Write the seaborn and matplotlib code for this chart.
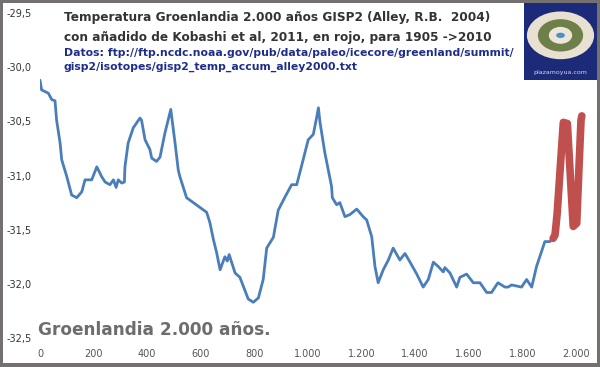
import matplotlib
matplotlib.use("Agg")
import matplotlib.pyplot as plt
import matplotlib.patches as patches
import matplotlib.ticker as ticker
import numpy as np
import pandas as pd
import seaborn as sns

# GISP2 temperature (Alley 2004)
years = [0, 6, 31, 44, 56, 62, 75, 81, 100, 118, 137, 156, 168, 193, 212, 230,
         243, 261, 274, 284, 292, 305, 315, 317, 329, 348, 373, 379, 392, 410,
         417, 435, 448, 466, 488, 504, 516, 522, 547, 622, 634, 647, 659, 672,
         690, 699, 706, 715, 728, 746, 777, 796, 815, 833, 846, 871, 889, 914,
         939, 958, 982, 1001, 1020, 1032, 1039, 1045, 1063, 1088, 1091, 1107,
         1119, 1138, 1157, 1182, 1206, 1219, 1238, 1250, 1262, 1281, 1300, 1318,
         1343, 1362, 1381, 1406, 1430, 1449, 1468, 1486, 1505, 1511, 1530, 1555,
         1567, 1592, 1617, 1642, 1667, 1685, 1709, 1735, 1747, 1760, 1797, 1816,
         1835, 1853, 1884, 1903, 1915]
temps = [-30.12, -30.21, -30.24, -30.30, -30.31, -30.49, -30.70, -30.855, -31.01,
         -31.18, -31.205, -31.15, -31.04, -31.04, -30.92, -31.01, -31.06, -31.085,
         -31.04, -31.11, -31.04, -31.07, -31.06, -30.92, -30.70, -30.56, -30.47,
         -30.49, -30.67, -30.76, -30.84, -30.87, -30.83, -30.61, -30.39, -30.70,
         -30.95, -31.01, -31.205, -31.34, -31.435, -31.59, -31.71, -31.87, -31.75,
         -31.79, -31.73, -31.80, -31.90, -31.94, -32.14, -32.17, -32.13, -31.96,
         -31.67, -31.57, -31.32, -31.20, -31.085, -31.085, -30.855, -30.67, -30.62,
         -30.47, -30.375, -30.51, -30.79, -31.10, -31.205, -31.27, -31.25, -31.38,
         -31.36, -31.31, -31.38, -31.41, -31.565, -31.84, -31.99, -31.87, -31.78,
         -31.67, -31.78, -31.72, -31.80, -31.91, -32.03, -31.96, -31.80, -31.84,
         -31.89, -31.85, -31.90, -32.03, -31.94, -31.91, -31.99, -31.99, -32.08,
         -32.08, -31.99, -32.03, -32.03, -32.01, -32.03, -31.96, -32.03, -31.84,
         -31.61, -31.61, -31.57]

# Kobashi et al 2011 addition (red)
k_years = [1915, 1922, 1930, 1945, 1953, 1968, 1980, 1990, 2003, 2011, 2019, 2022]
k_temps = [-31.58, -31.55, -31.35, -30.80, -30.51, -30.52, -31.04, -31.47, -31.44,
           -30.95, -30.49, -30.45]

xticks = [0, 200, 400, 600, 800, 1000, 1200, 1400, 1600, 1800, 2000]
yticks = [-32.5, -32.0, -31.5, -31.0, -30.5, -30.0, -29.5]

df = pd.DataFrame({"year": years, "temp": temps})
dk = pd.DataFrame({"year": k_years, "temp": k_temps})

sns.set_style("white")
plt.rcParams["font.family"] = ["DejaVu Sans"]

fig = plt.figure(figsize=(6, 3.67), dpi=100, facecolor="#747070")
# white panel inside the grey frame
fig.patches.append(patches.Rectangle((3 / 600, 4 / 367), 594 / 600, 360 / 367,
                                     transform=fig.transFigure, facecolor="white",
                                     edgecolor="none", zorder=-5))

ax = fig.add_axes([40 / 600, 1 - 338 / 367, 552 / 600, 325 / 367])
ax.set_facecolor("none")
sns.lineplot(data=df, x="year", y="temp", ax=ax, color="#4a7ebb", linewidth=2)
sns.lineplot(data=dk, x="year", y="temp", ax=ax, color="#c0504d", linewidth=5.5)

ax.set_xlim(0, 2060)
ax.set_ylim(-32.5, -29.5)
ax.set_xticks(xticks)
ax.set_yticks(yticks)
ax.xaxis.set_major_formatter(ticker.FuncFormatter(lambda v, p: f"{int(v):,}".replace(",", ".")))
ax.yaxis.set_major_formatter(ticker.FuncFormatter(lambda v, p: f"{v:.1f}".replace(".", ",")))
ax.tick_params(axis="x", length=0, pad=8, labelsize=7, labelcolor="#555555")
ax.tick_params(axis="y", length=0, pad=6, labelsize=7, labelcolor="#333333")
ax.set_xlabel("")
ax.set_ylabel("")
for s in ax.spines.values():
    s.set_visible(False)

# titles
fig.text(64 / 600, 1 - 18 / 367, "Temperatura Groenlandia 2.000 años GISP2 (Alley, R.B.  2004)",
         fontsize=8.7, fontweight="bold", color="#333333", va="center", ha="left")
fig.text(64 / 600, 1 - 37 / 367, "con añadido de Kobashi et al, 2011, en rojo, para 1905 ->2010",
         fontsize=8.7, fontweight="bold", color="#333333", va="center", ha="left")
fig.text(64 / 600, 1 - 53 / 367,
         "Datos: ftp://ftp.ncdc.noaa.gov/pub/data/paleo/icecore/greenland/summit/",
         fontsize=7.8, fontweight="bold", color="#1f2d8a", va="center", ha="left")
fig.text(64 / 600, 1 - 67 / 367, "gisp2/isotopes/gisp2_temp_accum_alley2000.txt",
         fontsize=7.8, fontweight="bold", color="#1f2d8a", va="center", ha="left")
fig.text(38 / 600, 1 - 330 / 367, "Groenlandia 2.000 años.",
         fontsize=12.2, fontweight="bold", color="#6d6d6d", va="center", ha="left")

# logo block, top right
lx, ly, lw, lh = 524 / 600, 1 - 80 / 367, 73 / 600, 77 / 367
fig.patches.append(patches.Rectangle((lx, ly), lw, lh, transform=fig.transFigure,
                                     facecolor="#1c2a7a", edgecolor="none", zorder=2))
fig.patches.append(patches.Ellipse((lx + lw / 2, ly + lh * 0.58), lw * 0.92, lh * 0.62,
                                   transform=fig.transFigure, facecolor="#e8e0d0",
                                   edgecolor="none", zorder=3))
fig.patches.append(patches.Ellipse((lx + lw / 2, ly + lh * 0.58), lw * 0.62, lh * 0.42,
                                   transform=fig.transFigure, facecolor="#6f7f4a",
                                   edgecolor="none", zorder=4))
fig.patches.append(patches.Ellipse((lx + lw / 2, ly + lh * 0.58), lw * 0.32, lh * 0.22,
                                   transform=fig.transFigure, facecolor="#ece6da",
                                   edgecolor="none", zorder=5))
fig.patches.append(patches.Circle((lx + lw / 2, ly + lh * 0.58), lw * 0.06,
                                  transform=fig.transFigure, facecolor="#4a90c8",
                                  edgecolor="none", zorder=6))
fig.text(lx + lw / 2, ly + lh * 0.1, "plazamoyua.com", fontsize=4.5, color="#d8d8e8",
         ha="center", va="center", zorder=7)

plt.savefig("out.png", dpi=100, facecolor=fig.get_facecolor())
